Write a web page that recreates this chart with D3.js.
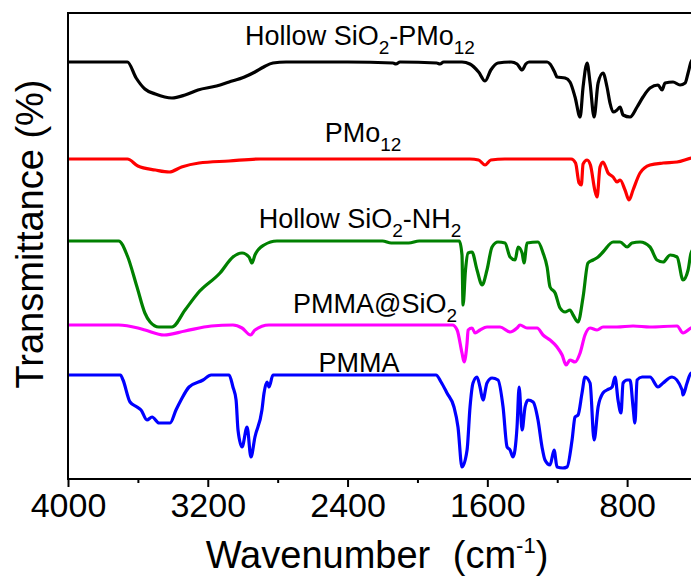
<!DOCTYPE html>
<html>
<head>
<meta charset="utf-8">
<title>FTIR spectra</title>
<script src="https://d3js.org/d3.v7.min.js"></script>
<style>
  body { margin: 0; background: #fff; }
  svg text { font-family: "Liberation Sans", Arial, sans-serif; fill: #000; }
</style>
</head>
<body>
<svg id="chart" width="691" height="578"></svg>
<script>
  // spectra: [wavenumber (cm-1), transmittance (a.u., stacked)]
  let hollowPMo = [[4000,417],[3660,417],[3610,401],[3560,390],[3500,385],[3405,381],[3330,384],[3256,389],[3150,393],[3078,397],[2990,402],[2930,407],[2880,412],[2827,416],[2752,417],[2400,417],[2140,416],[2123,415],[2100,417],[1890,416],[1871,415],[1850,417],[1745,417],[1700,415],[1650,407],[1613,398],[1580,409],[1539,416],[1464,417],[1430,415],[1401,409],[1380,415],[1361,417],[1258,417],[1241,415],[1215,407],[1201,402],[1155,401],[1127,397],[1098,382],[1069,362],[1052,392],[1029,416],[1012,396],[989,362],[966,396],[938,406],[915,392],[898,376],[880,367],[858,369],[840,372],[823,364],[783,362],[743,372],[709,382],[669,391],[623,394],[600,389],[583,396],[537,397],[497,394],[468,396],[451,406],[434,417],[400,424]];

  let pmo12 = [[4000,320],[3660,320],[3600,313],[3500,309],[3420,307],[3350,312],[3250,316],[3078,318],[2900,320],[1700,320],[1650,319],[1613,314],[1580,319],[1500,320],[1120,320],[1095,316],[1075,296],[1062,294],[1052,315],[1029,319],[1010,314],[985,289],[972,282],[955,312],[938,317],[909,306],[880,302],[858,297],[840,299],[812,289],[789,279],[766,289],[726,306],[669,314],[594,316],[514,317],[434,321],[400,322]];

  let hollowNH2 = [[4000,238],[3710,238],[3660,223],[3605,192],[3560,166],[3530,157],[3480,152],[3405,152],[3330,169],[3256,186],[3130,206],[3056,222],[3004,226],[2964,222],[2947,216],[2930,224],[2878,234],[2804,238],[2200,238],[2150,236],[2050,236],[1990,238],[1760,238],[1745,224],[1739,174],[1725,209],[1710,226],[1688,227],[1659,209],[1630,194],[1602,209],[1573,232],[1539,237],[1499,236],[1470,222],[1441,219],[1424,232],[1401,226],[1390,216],[1373,236],[1310,237],[1281,226],[1258,212],[1241,192],[1212,186],[1184,171],[1155,167],[1127,169],[1109,164],[1081,157],[1052,182],[1024,216],[995,219],[966,222],[938,227],[880,237],[840,237],[800,232],[772,236],[726,237],[669,232],[629,219],[594,217],[554,224],[514,222],[480,199],[451,209],[434,226],[400,234]];

  let pmmaSiO2 = [[4000,154],[3710,154],[3600,151],[3559,149],[3450,144],[3330,148],[3180,153],[3056,154],[3004,151],[2955,144],[2930,149],[2850,154],[1800,154],[1773,149],[1745,126],[1733,117],[1716,136],[1710,149],[1688,151],[1670,146],[1642,149],[1602,152],[1527,152],[1470,147],[1430,151],[1413,154],[1373,151],[1315,151],[1281,144],[1241,139],[1201,132],[1172,124],[1149,114],[1127,119],[1098,117],[1069,126],[1041,144],[1012,151],[972,149],[938,152],[858,152],[766,153],[669,152],[514,153],[480,146],[434,151],[400,153]];

  let pmma = [[4000,104],[3700,104],[3685,99],[3645,77],[3605,72],[3582,69],[3548,59],[3519,62],[3479,56],[3416,56],[3382,69],[3353,79],[3307,92],[3227,99],[3181,104],[3078,104],[3056,92],[3038,79],[3027,49],[3004,32],[2975,52],[2953,22],[2930,42],[2890,69],[2878,86],[2861,97],[2849,92],[2827,104],[1894,104],[1865,97],[1831,86],[1791,72],[1768,52],[1745,12],[1716,29],[1699,72],[1682,96],[1659,102],[1642,92],[1625,79],[1602,96],[1573,101],[1539,99],[1510,72],[1487,32],[1470,29],[1453,22],[1430,52],[1418,92],[1401,49],[1384,72],[1367,79],[1338,77],[1310,59],[1287,32],[1270,19],[1241,14],[1218,29],[1201,12],[1167,11],[1144,12],[1115,39],[1098,62],[1081,64],[1058,86],[1041,102],[1012,96],[989,39],[966,72],[938,86],[915,89],[886,92],[869,102],[852,79],[835,66],[823,96],[800,99],[783,99],[766,72],[755,56],[743,99],[714,102],[669,102],[623,92],[594,96],[543,102],[485,89],[480,84],[457,96],[434,106],[400,104]];

  let majorTicks = [4000, 3200, 2400, 1600, 800];
  let minorTicks = [3600, 2800, 2000, 1200, 400];

  // name parts: [text, isSubscript]
  let series = [
    { data: hollowPMo, color: "#000000", name: [["Hollow SiO"], ["2", 1], ["-PMo"], ["12", 1]], lx: 360, ly: 45 },
    { data: pmo12, color: "#ff0000", name: [["PMo"], ["12", 1]], lx: 363, ly: 142 },
    { data: hollowNH2, color: "#008000", name: [["Hollow SiO"], ["2", 1], ["-NH"], ["2", 1]], lx: 360, ly: 228 },
    { data: pmmaSiO2, color: "#ff00ff", name: [["PMMA@SiO"], ["2", 1]], lx: 375, ly: 313 },
    { data: pmma, color: "#0000ff", name: [["PMMA"]], lx: 359, ly: 372 }
  ];

  let svg = d3.select("#chart");
  let margin = { top: 13, left: 68 };
  let plotWidth = 629;   // runs a little past the right edge of the picture
  let plotHeight = 466;

  let x = d3.scaleLinear().domain([4000, 400]).range([0, plotWidth]);
  let y = d3.scaleLinear().domain([0, 466]).range([plotHeight, 0]);

  let plot = svg.append("g")
    .attr("transform", translate(margin.left, margin.top));

  // traces
  let line = d3.line()
    .x(d => x(d[0]))
    .y(d => y(d[1]))
    .curve(d3.curveMonotoneX);

  plot.selectAll("path.trace")
    .data(series)
    .enter().append("path")
    .attr("class", "trace")
    .attr("d", d => line(d.data))
    .attr("fill", "none")
    .attr("stroke", d => d.color)
    .attr("stroke-width", 3.2)
    .attr("stroke-linejoin", "round");

  // frame
  plot.append("rect")
    .attr("width", plotWidth)
    .attr("height", plotHeight)
    .attr("fill", "none")
    .attr("stroke", "#000")
    .attr("stroke-width", 2);

  // x axis
  let xAxis = d3.axisBottom(x).tickValues(majorTicks).tickSize(8).tickPadding(6).tickFormat(d3.format("d"));
  let xGroup = plot.append("g").attr("transform", translate(0, plotHeight)).call(xAxis);
  xGroup.select(".domain").remove();
  xGroup.selectAll("line").attr("stroke-width", 2);
  xGroup.selectAll("text")
    .attr("font-size", 34)
    .attr("font-family", "Liberation Sans, Arial, sans-serif");

  let minorGroup = plot.append("g").attr("transform", translate(0, plotHeight))
    .call(d3.axisBottom(x).tickValues(minorTicks).tickSize(4).tickFormat(""));
  minorGroup.select(".domain").remove();
  minorGroup.selectAll("line").attr("stroke-width", 2);

  // axis titles
  let xTitle = svg.append("text")
    .attr("x", 377)
    .attr("y", 568)
    .attr("text-anchor", "middle")
    .attr("font-size", 38);
  xTitle.append("tspan").text("Wavenumber");
  xTitle.append("tspan").attr("dx", 12).text(" (cm");
  xTitle.append("tspan").attr("font-size", 22).attr("dy", -15).text("-1");
  xTitle.append("tspan").attr("dy", 15).text(")");

  svg.append("text")
    .attr("transform", translate(43, 234) + " rotate(-90)")
    .attr("text-anchor", "middle")
    .attr("font-size", 38)
    .text("Transmittance (%)");

  // curve labels
  series.forEach(function(s) {
    let t = svg.append("text")
      .attr("x", s.lx)
      .attr("y", s.ly)
      .attr("text-anchor", "middle")
      .attr("font-size", 27);
    let down = false;
    s.name.forEach(function(p) {
      let span = t.append("tspan").text(p[0]);
      if (p[1]) {
        span.attr("font-size", 19).attr("dy", 9);
        down = true;
      } else if (down) {
        span.attr("dy", -9);
        down = false;
      }
    });
  });

  function translate(x, y) {
    return "translate(" + x + "," + y + ")";
  }
</script>
</body>
</html>
